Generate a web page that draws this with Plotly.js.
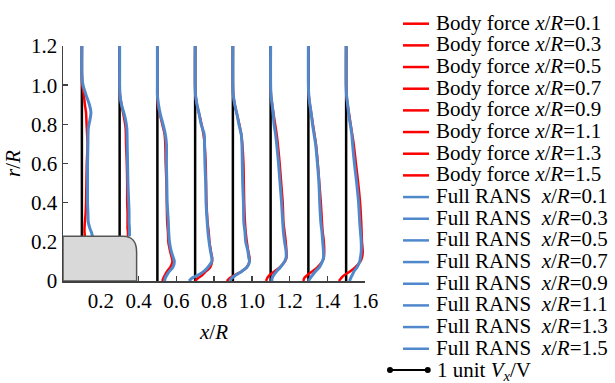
<!DOCTYPE html>
<html><head><meta charset="utf-8">
<script src="https://cdn.plot.ly/plotly-3.0.1.min.js"></script>
<style>html,body{margin:0;padding:0;background:#fff}#chart{width:615px;height:383px}</style>
</head><body><div id="chart"></div>
<script>
// ---- data ----
const stations = [0.1, 0.3, 0.5, 0.7, 0.9, 1.1, 1.3, 1.5];
// radial stations (r/R)
const rNacelle = [1.2, 1.05, 1.0, 0.95, 0.9, 0.86, 0.82, 0.78, 0.7, 0.6, 0.5, 0.4, 0.35, 0.3, 0.27, 0.25, 0.229];
const rWake = [1.2, 1.0, 0.95, 0.9, 0.85, 0.8, 0.75, 0.7, 0.6, 0.5, 0.4, 0.3, 0.25, 0.2, 0.15, 0.12, 0.1, 0.07, 0.05, 0.03, 0.015, 0];
// velocity increments (Vx/V units) - body force
const bf01 = [0,0,0.01,0.05,0.08,0.11,0.12,0.13,0.15,0.13,0.12,0.11,0.10,0.08,0.07,0.07,0.08];
const bf03 = [0,0,0,0.01,0.05,0.09,0.13,0.16,0.17,0.19,0.20,0.20,0.21,0.21,0.21,0.22,0.22];
const bf05 = [0,0,0,0.01,0.07,0.13,0.19,0.21,0.22,0.24,0.25,0.26,0.28,0.29,0.34,0.38,0.40,0.34,0.26,0.20,0.16,0.13];
const bf07 = [0,0,0.01,0.05,0.11,0.17,0.22,0.25,0.28,0.29,0.30,0.33,0.36,0.38,0.42,0.45,0.45,0.40,0.29,0.19,0.08,0];
const bf09 = [0,0,0.01,0.05,0.11,0.17,0.22,0.25,0.28,0.29,0.30,0.32,0.34,0.37,0.41,0.44,0.44,0.37,0.24,0.05,-0.08,-0.16];
const bf11 = [0,0,0.01,0.04,0.08,0.12,0.16,0.19,0.24,0.28,0.32,0.34,0.37,0.40,0.42,0.42,0.38,0.24,0.11,-0.03,-0.09,-0.12];
const bf13 = [0,0,0.01,0.04,0.08,0.12,0.16,0.20,0.25,0.29,0.33,0.36,0.38,0.41,0.42,0.41,0.37,0.24,0.11,-0.03,-0.11,-0.13];
const bf15 = [0,0,0.01,0.04,0.08,0.12,0.16,0.20,0.26,0.32,0.37,0.40,0.41,0.42,0.44,0.42,0.38,0.24,0.11,-0.05,-0.13,-0.19];
// full RANS
const rans01 = [0,0,0.03,0.11,0.20,0.24,0.21,0.17,0.16,0.15,0.15,0.15,0.16,0.17,0.21,0.25,0.28];
const rans03 = [0,0,0,0.01,0.05,0.11,0.16,0.19,0.20,0.21,0.22,0.24,0.25,0.25,0.26,0.26,0.26];
const rans05 = [0,0,0,0.03,0.08,0.15,0.21,0.24,0.24,0.25,0.26,0.29,0.30,0.32,0.37,0.42,0.45,0.41,0.32,0.25,0.21,0.19];
const rans07 = [0,0,0.01,0.05,0.11,0.16,0.24,0.25,0.26,0.28,0.29,0.32,0.34,0.37,0.41,0.44,0.44,0.34,0.24,0.08,-0.08,-0.16];
const rans09 = [0,0,0.01,0.05,0.11,0.16,0.22,0.24,0.25,0.26,0.28,0.29,0.32,0.34,0.40,0.42,0.44,0.37,0.24,0.08,-0.03,-0.08];
const rans11 = [0,0,0.01,0.04,0.07,0.09,0.13,0.16,0.21,0.25,0.29,0.32,0.34,0.37,0.41,0.41,0.37,0.26,0.16,0.08,0.04,0.03];
const rans13 = [0,0,0.01,0.04,0.08,0.11,0.15,0.19,0.24,0.28,0.30,0.33,0.36,0.38,0.40,0.40,0.37,0.29,0.19,0.11,0.05,0];
const rans15 = [0,0,0.01,0.04,0.07,0.11,0.15,0.17,0.22,0.28,0.33,0.36,0.38,0.40,0.40,0.38,0.36,0.29,0.21,0.16,0.12,0.09];
const xTicks = [0.2, 0.4, 0.6, 0.8, 1.0, 1.2, 1.4, 1.6];
const yTicks = [0, 0.2, 0.4, 0.6, 0.8, 1.0, 1.2];
const yTickText = ['0', '0.2', '0.4', '0.6', '0.8', '1.0', '1.2'];
const nacelleLength = 0.39, nacelleRadius = 0.229;
const unitScale = 0.2; // x/R length of 1 unit Vx/V

const bodyForce = [bf01, bf03, bf05, bf07, bf09, bf11, bf13, bf15];
const fullRans = [rans01, rans03, rans05, rans07, rans09, rans11, rans13, rans15];

// ---- geometry ----
const W = 615, H = 383, ML = 63, MR = 250, MT = 46, MB = 102;
const PW = W - ML - MR, PH = H - MT - MB;
const px2x = px => (px - ML) / PW;
const py2y = py => (H - MB - py) / PH;
const FONT = "'Liberation Serif', 'Times New Roman', serif";
const RED = '#ff0000', BLUE = '#5088cc';

const traces = [];
stations.forEach((s, i) => {
  traces.push({x: [s, s], y: [i < 2 ? nacelleRadius : 0, 1.2], mode: 'lines',
    line: {color: '#000', width: 2.5}, showlegend: false, hoverinfo: 'skip'});
});
const mk = (arr, color, width, label) => stations.forEach((s, i) => {
  const r = i < 2 ? rNacelle : rWake;
  traces.push({x: r.map((_, k) => s + unitScale * arr[i][k]), y: r, mode: 'lines',
    name: label + s.toFixed(1), showlegend: false,
    line: {color: color, width: width, shape: 'spline', smoothing: 0.8}});
});
mk(bodyForce, RED, 2.5, 'Body force x/R=');
mk(fullRans, BLUE, 3, 'Full RANS x/R=');

const annotations = [], shapes = [];
shapes.push({type: 'path', xref: 'x', yref: 'y', layer: 'above',
  path: `M 0,0 L 0,${nacelleRadius} L ${nacelleLength - 0.07},${nacelleRadius} C ${nacelleLength - 0.025},${nacelleRadius} ${nacelleLength},${nacelleRadius - 0.03} ${nacelleLength},${nacelleRadius - 0.08} L ${nacelleLength},0 Z`,
  fillcolor: '#d9d9d9', line: {color: '#555', width: 1.5}});

const legendLabels = stations.map(s => 'Body force <i>x</i>/<i>R</i>=' + s.toFixed(1))
  .concat(stations.map(s => 'Full RANS\u00a0 <i>x</i>/<i>R</i>=' + s.toFixed(1)));
legendLabels.forEach((t, i) => {
  const yc = 21.7 + 21.67 * i;
  const col = i < 8 ? RED : BLUE;
  shapes.push({type: 'line', xref: 'paper', yref: 'paper', x0: px2x(403), x1: px2x(429),
    y0: py2y(yc + 2), y1: py2y(yc + 2), line: {color: col, width: 2.5}});
  annotations.push({xref: 'paper', yref: 'paper', x: px2x(435), y: py2y(yc + 1), xanchor: 'left',
    yanchor: 'middle', showarrow: false, borderpad: 0, text: t, font: {family: FONT, size: 21, color: '#000'}});
});
// unit scale bar
const uy = 370, ux0 = 390;
const ux1 = ux0 + unitScale / 1.6 * PW;
shapes.push({type: 'line', xref: 'paper', yref: 'paper', x0: px2x(ux0), x1: px2x(ux1), y0: py2y(uy), y1: py2y(uy), line: {color: '#000', width: 2}});
[ux0, ux1].forEach(p => shapes.push({type: 'circle', xref: 'paper', yref: 'paper',
  x0: px2x(p - 3), x1: px2x(p + 3), y0: py2y(uy + 3), y1: py2y(uy - 3), fillcolor: '#000', line: {color: '#000', width: 0}}));
annotations.push({xref: 'paper', yref: 'paper', x: px2x(436), y: py2y(uy + 1), xanchor: 'left', yanchor: 'middle',
  showarrow: false, borderpad: 0, text: '1 unit <i>V</i><sub><i>x</i></sub>/V', font: {family: FONT, size: 21, color: '#000'}});

const mkAxis = () => ({showline: true, linecolor: '#404040', linewidth: 1.5, ticks: 'inside', ticklen: 5,
  tickcolor: '#404040', tickwidth: 1.5, showgrid: false, zeroline: false, automargin: true,
  tickfont: {family: FONT, size: 21, color: '#000'}});
const layout = {
  width: W, height: H, margin: {l: ML, r: MR, t: MT, b: MB},
  font: {family: FONT, size: 21, color: '#000'},
  paper_bgcolor: '#fff', plot_bgcolor: '#fff', showlegend: false,
  xaxis: Object.assign(mkAxis(), {range: [0, 1.6], tickmode: 'array', tickvals: xTicks,
    ticktext: xTicks.map(v => v.toFixed(1)),
    title: {text: '<i>x</i>/<i>R</i>', font: {family: FONT, size: 21, color: '#000'}, standoff: 12}}),
  yaxis: Object.assign(mkAxis(), {range: [0, 1.2], tickmode: 'array', tickvals: yTicks, ticktext: yTickText,
    title: {text: '<i>r</i>/<i>R</i>', font: {family: FONT, size: 21, color: '#000'}, standoff: 4}}),
  shapes: shapes, annotations: annotations
};
Plotly.newPlot('chart', traces, layout, {displayModeBar: false, staticPlot: true});
</script></body></html>
